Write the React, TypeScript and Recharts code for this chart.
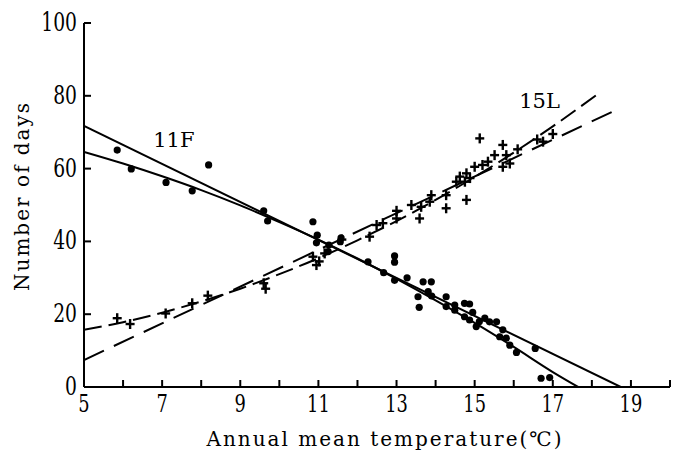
import { ComposedChart, XAxis, YAxis, Scatter, Line, ReferenceDot, Label } from 'recharts';

const xTicks = [5, 6, 7, 8, 9, 10, 11, 12, 13, 14, 15, 16, 17, 18, 19, 20];
const xLabelled = [5, 7, 9, 11, 13, 15, 17, 19];
const yTicks = [0, 20, 40, 60, 80, 100];

// 11F observations (filled dots)
const temp11F = [5.85, 6.21, 7.1, 7.77, 8.19, 9.6, 9.7, 10.86, 10.97, 10.95, 11.27, 11.25, 11.58, 11.56, 12.27, 12.67, 12.95, 12.95, 12.95, 13.27, 13.55, 13.58, 13.68, 13.89, 13.81, 13.9, 14.27, 14.27, 14.49, 14.49, 14.74, 14.87, 14.74, 14.87, 14.95, 15.04, 15.12, 15.26, 15.38, 15.56, 15.72, 15.64, 15.81, 15.9, 16.07, 16.55, 16.7, 16.92];
const days11F = [65.1, 59.9, 56.2, 53.9, 61.0, 48.4, 45.6, 45.4, 41.7, 39.6, 39.0, 37.2, 41.0, 39.9, 34.4, 31.4, 36.0, 34.3, 29.3, 30.0, 24.8, 21.9, 28.9, 28.9, 26.2, 25.0, 24.8, 22.1, 22.5, 21.1, 23.0, 22.8, 19.3, 18.4, 20.5, 16.6, 18.0, 18.9, 17.9, 17.9, 15.7, 13.8, 13.4, 11.5, 9.5, 10.6, 2.4, 2.6];

// 15L observations (plus marks)
const temp15L = [5.85, 6.18, 7.09, 7.77, 8.17, 9.6, 9.65, 10.86, 10.95, 11.16, 11.02, 11.6, 12.31, 12.49, 12.65, 13.0, 13.0, 13.38, 13.59, 13.63, 13.85, 13.89, 14.27, 14.27, 14.53, 14.62, 14.75, 14.79, 14.88, 14.79, 15.0, 15.13, 15.2, 15.34, 15.51, 15.72, 15.72, 15.81, 15.9, 16.1, 16.6, 16.75, 17.0];
const days15L = [18.9, 17.3, 20.2, 23.0, 25.1, 28.5, 27.0, 35.8, 33.5, 36.7, 34.5, 40.5, 41.3, 44.5, 45.0, 48.4, 46.3, 50.0, 46.3, 49.5, 50.9, 52.7, 52.7, 49.1, 56.4, 57.8, 56.4, 58.7, 57.4, 51.4, 60.5, 68.3, 61.0, 61.9, 63.7, 66.5, 60.5, 63.7, 61.4, 65.3, 68.0, 67.4, 69.5];

// fitted lines
const lin11FX = [5, 18.74];
const lin11FY = [71.7, 0];
const quad11FX = [5, 6, 7, 8, 9, 10, 11, 12, 13, 14, 15, 16, 17, 17.65];
const quad11FY = [64.6, 61.4, 57.9, 54.1, 49.9, 45.3, 40.5, 35.3, 29.7, 23.8, 17.6, 11.0, 4.1, 0];
const lin15LX = [5, 18.58];
const lin15LY = [7.4, 75.9];
const quad15LX = [5, 6, 7, 8, 9, 10, 11, 12, 13, 14, 15, 16, 17, 18.24];
const quad15LY = [15.7, 17.8, 20.4, 23.5, 27.0, 31.0, 35.4, 40.3, 45.6, 51.4, 57.7, 64.4, 71.6, 81.2];

const zip = (xs: number[], ys: number[]) => xs.map((x, i) => ({ x, y: ys[i] }));

const SERIF = "'DejaVu Serif', 'Liberation Serif', serif";

const XTick = ({ x, y, payload }: any) => (
    <g>
        <line x1={x} y1={y} x2={x} y2={y - 7} stroke="#000" strokeWidth={2} />
        {xLabelled.includes(payload.value) && (
            <text x={x} y={y + 25} textAnchor="middle" fontSize={21} fill="#000" style={{ fontFamily: SERIF }} transform={`translate(${x} ${y + 25}) scale(0.85 1.15) translate(${-x} ${-(y + 25)})`}>
                {payload.value}
            </text>
        )}
    </g>
);

const YTick = ({ x, y, payload }: any) => (
    <g>
        <line x1={x} y1={y} x2={x + 7} y2={y} stroke="#000" strokeWidth={2} />
        <text x={x - 7} y={y + 8} textAnchor="end" fontSize={22} fill="#000" style={{ fontFamily: SERIF }} transform={`translate(${x - 7} ${y + 8}) scale(0.85 1.15) translate(${-(x - 7)} ${-(y + 8)})`}>
            {payload.value}
        </text>
    </g>
);

const Dot = ({ cx, cy }: any) => <circle cx={cx} cy={cy} r={3.6} fill="#000" />;

const PlusMark = ({ cx, cy }: any) => (
    <g stroke="#000" strokeWidth={2.4}>
        <line x1={cx - 4.5} y1={cy} x2={cx + 4.5} y2={cy} />
        <line x1={cx} y1={cy - 5} x2={cx} y2={cy + 5} />
    </g>
);

export default function App() {
    return (
        <div style={{ position: 'absolute', left: 0, top: 0, background: '#fff' }}>
            <ComposedChart width={683} height={452} margin={{ top: 23, right: 13, left: 0, bottom: 0 }}>
                <XAxis
                    dataKey="x"
                    type="number"
                    domain={[5, 20]}
                    ticks={xTicks}
                    interval={0}
                    height={65}
                    tickSize={0}
                    tickMargin={0}
                    tickLine={false}
                    tick={<XTick />}
                    axisLine={{ stroke: '#000', strokeWidth: 2 }}
                    allowDataOverflow
                >
                    <Label
                        content={() => (
                            <text x={385} y={446} textAnchor="middle" fontSize={20} letterSpacing={2} fill="#000" style={{ fontFamily: SERIF }}>
                                Annual mean temperature(℃)
                            </text>
                        )}
                    />
                </XAxis>
                <YAxis
                    dataKey="y"
                    type="number"
                    domain={[0, 100]}
                    ticks={yTicks}
                    interval={0}
                    width={84}
                    tickSize={0}
                    tickMargin={0}
                    tickLine={false}
                    tick={<YTick />}
                    axisLine={{ stroke: '#000', strokeWidth: 2 }}
                    allowDataOverflow
                >
                    <Label
                        content={() => (
                            <text x={22} y={196} transform="rotate(-90 22 196)" dy="0.35em" textAnchor="middle" fontSize={20} letterSpacing={2} fill="#000" style={{ fontFamily: SERIF }}>
                                Number of days
                            </text>
                        )}
                    />
                </YAxis>

                <Line data={zip(lin11FX, lin11FY)} dataKey="y" type="linear" stroke="#000" strokeWidth={2} dot={false} isAnimationActive={false} />
                <Line data={zip(quad11FX, quad11FY)} dataKey="y" type="monotone" stroke="#000" strokeWidth={2} dot={false} isAnimationActive={false} />
                <Line data={zip(lin15LX, lin15LY)} dataKey="y" type="linear" stroke="#000" strokeWidth={2} strokeDasharray="22 11" dot={false} isAnimationActive={false} />
                <Line data={zip(quad15LX, quad15LY)} dataKey="y" type="monotone" stroke="#000" strokeWidth={2} strokeDasharray="18 7" dot={false} isAnimationActive={false} />

                <Scatter data={zip(temp11F, days11F)} dataKey="y" shape={<Dot />} isAnimationActive={false} />
                <Scatter data={zip(temp15L, days15L)} dataKey="y" shape={<PlusMark />} isAnimationActive={false} />

                <ReferenceDot x={7.3} y={67.9} r={0} stroke="none" label={{ value: '11F', position: 'center', fontSize: 21, fill: '#000', style: { fontFamily: SERIF } }} />
                <ReferenceDot x={16.66} y={78.8} r={0} stroke="none" label={{ value: '15L', position: 'center', fontSize: 21, fill: '#000', style: { fontFamily: SERIF } }} />
            </ComposedChart>
        </div>
    );
}
